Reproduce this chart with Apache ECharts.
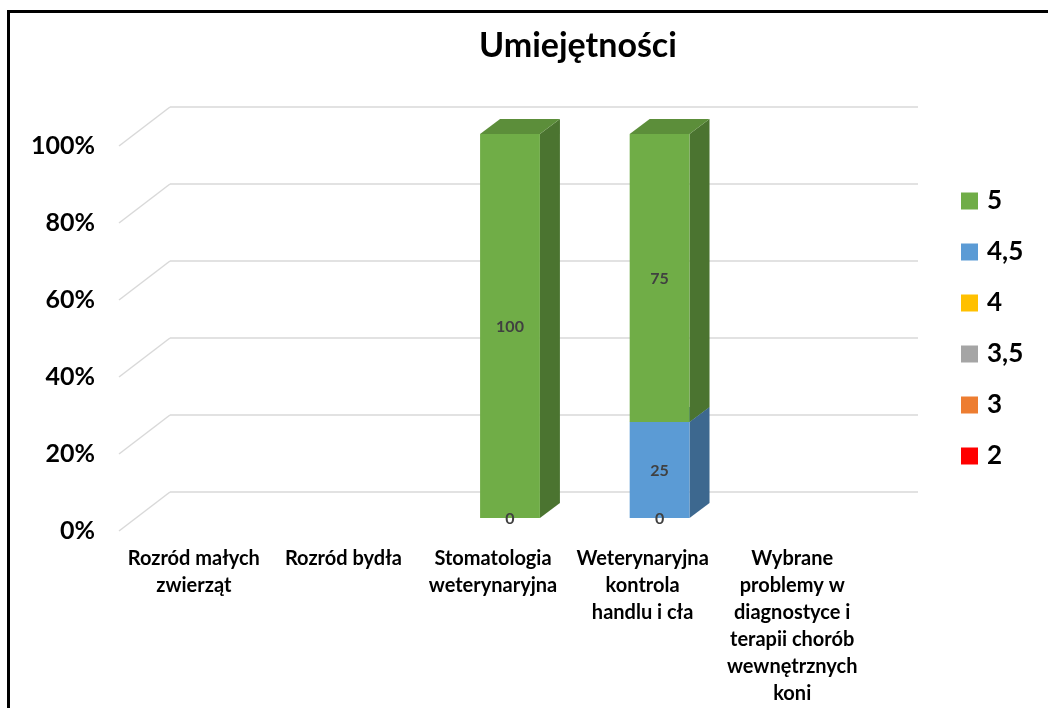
<!DOCTYPE html>
<html>
<head>
<meta charset="utf-8">
<script src="https://cdn.jsdelivr.net/npm/echarts@6.0.0/dist/echarts.min.js"></script>
<style>
  html, body { margin: 0; padding: 0; background: #fff; }
  #chart { width: 1048px; height: 708px; }
</style>
</head>
<body>
<div id="chart"></div>
<script>
// categories (wrapped the way the original shows them)
const categories = [
  'Rozród małych\nzwierząt',
  'Rozród bydła',
  'Stomatologia\nweterynaryjna',
  'Weterynaryjna\nkontrola\nhandlu i cła',
  'Wybrane\nproblemy w\ndiagnostyce i\nterapii chorób\nwewnętrznych\nkoni'
];

// stacking order: bottom -> top
const seriesNames = ['2', '3', '3,5', '4', '4,5', '5'];
const seriesColors = ['#FF0000', '#ED7D31', '#A5A5A5', '#FFC000', '#5B9BD5', '#70AD47'];

const vals2  = [null, null, null, null, null];
const vals3  = [null, null, null, null, null];
const vals35 = [null, null, null, null, null];
const vals4  = [null, null, 0, 0, null];
const vals45 = [null, null, null, 25, null];
const vals5  = [null, null, 100, 75, null];
const seriesValues = [vals2, vals3, vals35, vals4, vals45, vals5];

const yTicks = [0, 20, 40, 60, 80, 100];
const legendOrder = ['5', '4,5', '4', '3,5', '3', '2'];

const FONT = 'Lato';
const BAR_DEPTH = [20, -15];   // 3d offset of the bars
const WALL_DEPTH = [51, -39];  // front edge -> back wall

function shade(hex, k) {
  const n = parseInt(hex.slice(1), 16);
  const r = Math.round(((n >> 16) & 255) * k);
  const g = Math.round(((n >> 8) & 255) * k);
  const b = Math.round((n & 255) * k);
  return 'rgb(' + r + ',' + g + ',' + b + ')';
}

// cumulative bases for the stack
const bases = seriesValues.map(() => categories.map(() => 0));
for (let c = 0; c < categories.length; c++) {
  let acc = 0;
  for (let s = 0; s < seriesValues.length; s++) {
    bases[s][c] = acc;
    acc += seriesValues[s][c] || 0;
  }
}

function segData(s) {
  const data = [];
  seriesValues[s].forEach((v, c) => {
    if (v !== null) data.push([c, v, bases[s][c]]);
  });
  return data;
}

const barSeries = seriesNames.map((name, s) => {
  const color = seriesColors[s];
  return {
    name: name,
    type: 'custom',
    xAxisIndex: 2,
    yAxisIndex: 2,
    z: 2,
    itemStyle: { color: color },
    data: segData(s),
    renderItem: function (params, api) {
      const c = api.value(0), v = api.value(1), base = api.value(2);
      if (!(v > 0)) return { type: 'group', children: [] };
      const p0 = api.coord([c, base]);
      const p1 = api.coord([c, base + v]);
      const w = api.size([1, 0])[0] * 0.4;
      const x0 = p0[0] - w / 2, x1 = p0[0] + w / 2;
      const yb = p0[1], yt = p1[1];
      const dx = BAR_DEPTH[0], dy = BAR_DEPTH[1];
      return {
        type: 'group',
        children: [
          {
            type: 'polygon',
            shape: { points: [[x1, yb], [x1 + dx, yb + dy], [x1 + dx, yt + dy], [x1, yt]] },
            style: { fill: shade(color, 0.67) }
          },
          {
            type: 'polygon',
            shape: { points: [[x0, yt], [x1, yt], [x1 + dx, yt + dy], [x0 + dx, yt + dy]] },
            style: { fill: shade(color, 0.82) }
          },
          {
            type: 'rect',
            shape: { x: x0, y: yt, width: w, height: yb - yt },
            style: { fill: color }
          }
        ]
      };
    }
  };
});

// value labels drawn above every bar face
const labelSeries = seriesNames.map((name, s) => ({
  type: 'custom',
  xAxisIndex: 2,
  yAxisIndex: 2,
  z: 5,
  silent: true,
  data: segData(s),
  renderItem: function (params, api) {
    const c = api.value(0), v = api.value(1), base = api.value(2);
    const p0 = api.coord([c, base]);
    const p1 = api.coord([c, base + v]);
    return {
      type: 'text',
      x: p0[0], y: (p0[1] + p1[1]) / 2 + 1,
      style: {
        text: String(v), align: 'center', verticalAlign: 'middle',
        fill: '#404040', font: 'bold 16px ' + FONT
      }
    };
  }
}));

const chart = echarts.init(document.getElementById('chart'));
chart.setOption({
  animation: false,
  backgroundColor: '#fff',
  title: {
    text: 'Umiejętności',
    left: 479, top: 29, padding: 0,
    textStyle: { fontFamily: FONT, fontSize: 34, fontWeight: 'bold', color: '#000' }
  },
  legend: {
    data: legendOrder,
    orient: 'vertical',
    left: 961, top: 188, padding: 0,
    icon: 'rect', itemWidth: 17, itemHeight: 17, itemGap: 25,
    textStyle: { fontFamily: FONT, fontSize: 26, fontWeight: 'bold', color: '#000', padding: [0, 0, 0, 4] }
  },
  grid: [
    // back wall
    { left: 170, top: 107, width: 748, height: 385 },
    // front edge (axis labels)
    { left: 119, top: 146, width: 748, height: 385 },
    // bars front face plane
    { left: 136, top: 134, width: 748, height: 384 }
  ],
  xAxis: [
    { gridIndex: 0, type: 'value', min: 0, max: 1, show: false },
    {
      gridIndex: 1, type: 'category', data: categories,
      axisLine: { show: false }, axisTick: { show: false },
      axisLabel: {
        interval: 0, margin: 14, color: '#000',
        fontFamily: FONT, fontSize: 20, fontWeight: 'bold', lineHeight: 27
      }
    },
    { gridIndex: 2, type: 'category', data: categories, show: false }
  ],
  yAxis: [
    {
      gridIndex: 0, type: 'value', min: 0, max: 100, interval: 20,
      axisLine: { show: false }, axisTick: { show: false }, axisLabel: { show: false },
      splitLine: { lineStyle: { color: '#d9d9d9', width: 1.5 } }
    },
    {
      gridIndex: 1, type: 'value', min: 0, max: 100, interval: 20,
      axisLine: { show: false }, axisTick: { show: false }, splitLine: { show: false },
      axisLabel: {
        formatter: '{value}%', margin: 24, color: '#000',
        fontFamily: FONT, fontSize: 25, fontWeight: 'bold'
      }
    },
    { gridIndex: 2, type: 'value', min: 0, max: 100, show: false }
  ],
  series: [
    {
      // slanted floor/wall lines from the front edge to the back wall
      type: 'custom',
      xAxisIndex: 0, yAxisIndex: 0,
      silent: true,
      data: yTicks.map(v => [0, v]),
      renderItem: function (params, api) {
        const p = api.coord([0, api.value(1)]);
        return {
          type: 'line',
          shape: { x1: p[0] - WALL_DEPTH[0], y1: p[1] - WALL_DEPTH[1], x2: p[0], y2: p[1] },
          style: { stroke: '#d9d9d9', lineWidth: 1.5 }
        };
      }
    }
  ].concat(barSeries, labelSeries),
  graphic: [{
    type: 'rect',
    shape: { x: 8.5, y: 11.5, width: 1100, height: 800 },
    style: { fill: null, stroke: '#000', lineWidth: 3 },
    silent: true, z: 100
  }]
});
</script>
</body>
</html>
